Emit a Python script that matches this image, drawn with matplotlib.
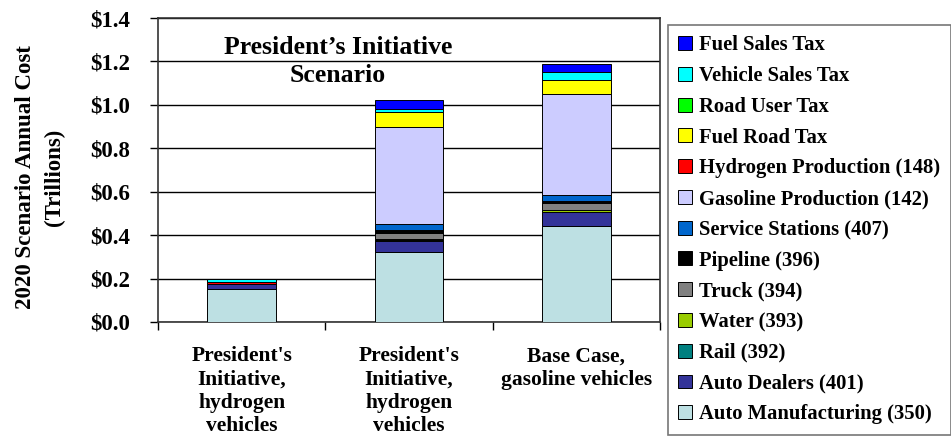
import numpy as np
import matplotlib.pyplot as plt

scenarios = ["President's\nInitiative,\nhydrogen\nvehicles",
             "President's\nInitiative,\nhydrogen\nvehicles",
             "Base Case,\ngasoline vehicles"]

# stacked from the bottom up, trillions of dollars
auto_mfg = [0.152, 0.323, 0.443]
auto_dealers = [0.024, 0.051, 0.064]
rail = [0.0, 0.004, 0.0]
water = [0.0, 0.004, 0.009]
truck = [0.0, 0.029, 0.031]
pipeline = [0.0, 0.012, 0.011]
service_stations = [0.0, 0.026, 0.026]
gasoline_prod = [0.0, 0.447, 0.465]
hydrogen_prod = [0.008, 0.0, 0.0]
fuel_road_tax = [0.0, 0.069, 0.066]
road_user_tax = [0.0, 0.0, 0.0]
vehicle_sales_tax = [0.012, 0.018, 0.037]
fuel_sales_tax = [0.0, 0.041, 0.035]

series = [
    ("Auto Manufacturing (350)", auto_mfg, "#BDE0E3"),
    ("Auto Dealers (401)", auto_dealers, "#333399"),
    ("Rail (392)", rail, "#008080"),
    ("Water (393)", water, "#99CC00"),
    ("Truck (394)", truck, "#808080"),
    ("Pipeline (396)", pipeline, "#000000"),
    ("Service Stations (407)", service_stations, "#0066CC"),
    ("Gasoline Production (142)", gasoline_prod, "#CCCCFF"),
    ("Hydrogen Production (148)", hydrogen_prod, "#FF0000"),
    ("Fuel Road Tax", fuel_road_tax, "#FFFF00"),
    ("Road User Tax", road_user_tax, "#00FF00"),
    ("Vehicle Sales Tax", vehicle_sales_tax, "#00FFFF"),
    ("Fuel Sales Tax", fuel_sales_tax, "#0000FF"),
]

plt.rcParams['font.family'] = 'Liberation Serif'
plt.rcParams['font.weight'] = 'bold'

fig = plt.figure(figsize=(9.51, 4.48), dpi=100)
ax = fig.add_axes([0.1661, 0.2813, 0.528, 0.6785])

x = np.arange(len(scenarios))
bottom = np.zeros(len(scenarios))
handles = []
for name, vals, col in series:
    b = ax.bar(x, vals, 0.41, bottom=bottom, color=col, edgecolor='black',
               linewidth=0.7, label=name, zorder=3)
    handles.append(b)
    bottom += np.array(vals)

ax.set_xlim(-0.5, 2.5)
ax.set_ylim(0, 1.4)
ax.set_yticks(np.arange(0, 1.41, 0.2))
ax.set_yticklabels(['$%.1f' % v for v in np.arange(0, 1.41, 0.2)], fontsize=16.5, fontweight='bold')
ax.yaxis.grid(True, color='black', linewidth=1.0, zorder=0)
ax.set_xticks([-0.5, 0.5, 1.5, 2.5])
ax.set_xticklabels([])
ax.tick_params(axis='x', direction='out', length=6, width=1)
ax.tick_params(axis='y', direction='out', length=6, width=1, pad=14)
for s in ax.spines.values():
    s.set_linewidth(1.2)
    s.set_color('#333333')

for i, lab in enumerate(scenarios):
    ax.text(i, -0.112, lab, ha='center', va='top', fontsize=15.5, fontweight='bold',
            linespacing=1.22)

fig.text(40 / 951, 1 - 177 / 448, "2020 Scenario Annual Cost\n(Trillions)", rotation=90,
         ha='center', va='center', fontsize=16.5, fontweight='bold', linespacing=1.45)
ax.text(0.576, 1.2, "President\u2019s Initiative\nScenario", ha='center', va='center',
        fontsize=18.5, fontweight='bold', linespacing=1.25)

leg = fig.legend(handles[::-1], [s[0] for s in series][::-1], loc='upper left',
                 bbox_to_anchor=(668 / 951, 1 - 25 / 448),
                 prop={'weight': 'bold', 'size': 14.9}, frameon=True, fancybox=False,
                 handlelength=0.65, handleheight=0.65, handletextpad=0.35,
                 labelspacing=0.52, borderpad=0.5, borderaxespad=0)
leg.get_frame().set_edgecolor('#555555')
leg.get_frame().set_linewidth(1.2)

fig.savefig('out.png', dpi=100)
